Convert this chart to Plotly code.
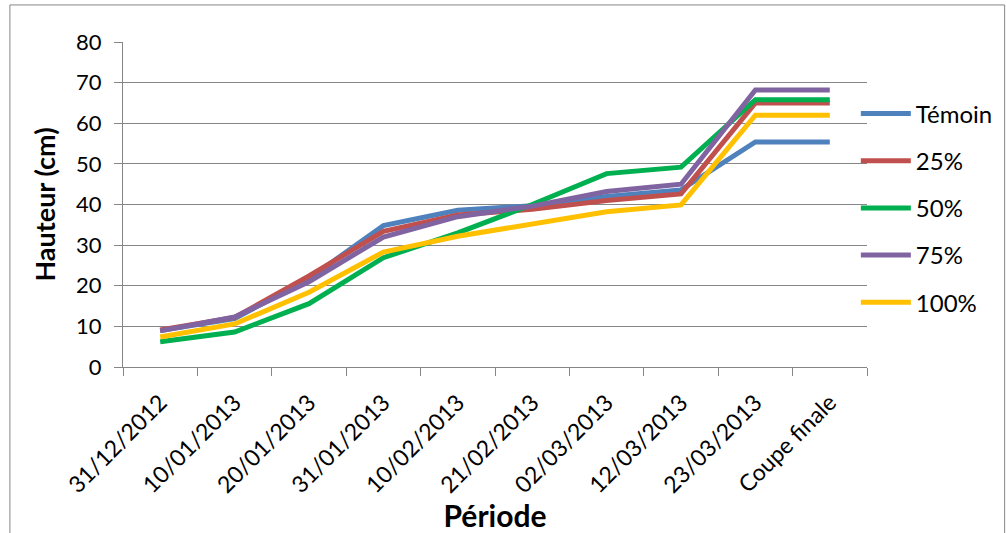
import plotly.graph_objects as go

categories = ["31/12/2012", "10/01/2013", "20/01/2013", "31/01/2013", "10/02/2013",
              "21/02/2013", "02/03/2013", "12/03/2013", "23/03/2013", "Coupe finale"]
temoin = [9.0, 11.9, 21.8, 34.8, 38.6, 39.7, 42.0, 43.6, 55.4, 55.4]
p25 = [9.1, 12.2, 22.4, 33.4, 37.4, 38.8, 41.0, 42.6, 65.0, 65.0]
p50 = [6.2, 8.6, 15.6, 26.9, 33.0, 40.0, 47.6, 49.2, 65.8, 65.8]
p75 = [8.9, 12.3, 21.0, 32.0, 37.0, 39.6, 43.2, 45.0, 68.2, 68.2]
p100 = [7.4, 10.6, 18.4, 28.3, 32.2, 35.2, 38.2, 39.9, 62.0, 62.0]

series = [("Témoin", temoin, "#4F81BD"), ("25%", p25, "#C0504D"),
          ("50%", p50, "#00B050"), ("75%", p75, "#8064A2"),
          ("100%", p100, "#FFC000")]

FONT = "Lato, Carlito, Calibri, sans-serif"
fig = go.Figure()
for i, (name, vals, col) in enumerate(series):
    fig.add_trace(go.Scatter(x=categories, y=vals, name=name, mode="lines",
                             line=dict(color=col, width=5),
                             legendgroup=f"g{i}"))

fig.update_layout(
    width=1006, height=533,
    margin=dict(l=123, r=139, t=42, b=166, autoexpand=False),
    paper_bgcolor="white", plot_bgcolor="white",
    font=dict(family=FONT, size=22, color="black"),
    showlegend=True,
    legend=dict(x=0.985, y=0.848, xanchor="left", yanchor="top",
                font=dict(size=24), tracegroupgap=13, itemwidth=50,
                bgcolor="rgba(0,0,0,0)"),
    xaxis=dict(type="category", tickson="boundaries", showgrid=False,
               showline=True, linecolor="#868686", linewidth=1,
               ticks="outside", ticklen=8, tickcolor="#868686",
               tickangle=-45, tickfont=dict(size=23), ticklabelstandoff=12,
               title=dict(text="<b>Période</b>", font=dict(size=30), standoff=2),
               range=[-0.5, 9.5]),
    yaxis=dict(range=[0, 80], dtick=10, showgrid=True, gridcolor="#868686",
               gridwidth=1, showline=True, linecolor="#868686", linewidth=1,
               ticks="outside", ticklen=8, tickcolor="#868686",
               tickfont=dict(size=22), zeroline=False, ticklabelstandoff=8,
               title=dict(text="<b>Hauteur (cm)</b>", font=dict(size=27), standoff=12)),
)
fig.add_shape(type="rect", xref="paper", yref="paper",
              x0=-0.152, x1=1.185, y0=-0.6, y1=1.114,
              line=dict(color="#868686", width=1), fillcolor="rgba(0,0,0,0)", layer="below")
fig.write_html("out.html")
